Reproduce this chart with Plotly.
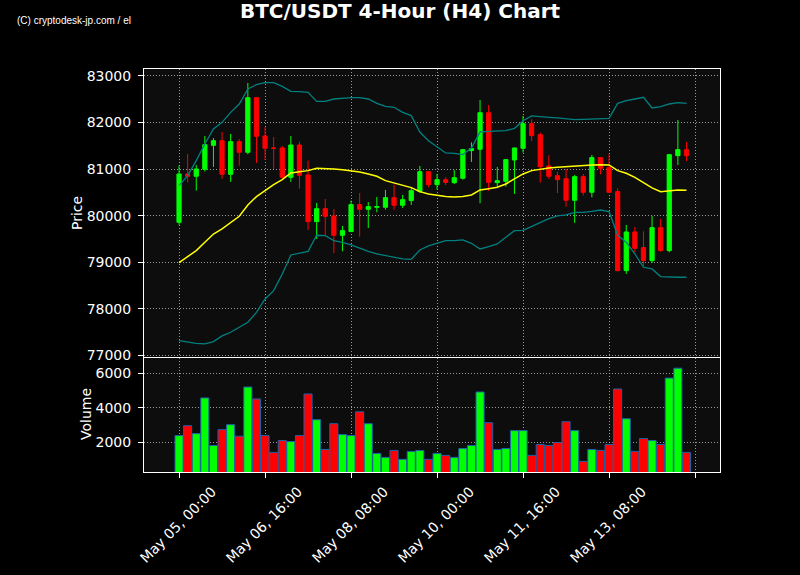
import pandas as pd
import plotly.graph_objects as go
from plotly.subplots import make_subplots

start_time = "2025-05-05 00:00"
n_candles = 60
opens = [79860, 80897, 80847, 80997, 81512, 81612, 80890, 81591, 81362, 82535,
         81712, 81455, 81455, 80825, 81519, 80876, 79874, 80153, 79996, 79581,
         79660, 80239, 80139, 80182, 80182, 80389, 80225, 80325, 80525, 80947,
         80668, 80775, 80711, 80804, 81398, 81426, 82213, 80711, 80740, 81197,
         81448, 81977, 81741, 81069, 80861, 80797, 80332, 80840, 80504, 81248,
         81033, 80518, 78822, 79652, 79316, 79037, 79745, 79252, 81290, 81419]
closes = [80897, 80847, 81004, 81526, 81612, 80890, 81591, 81362, 82535, 81705,
          81448, 81448, 80825, 81519, 80868, 79874, 80153, 79988, 79581, 79681,
          80239, 80139, 80196, 80196, 80389, 80225, 80346, 80539, 80947, 80668,
          80775, 80718, 80818, 81419, 81441, 82213, 80718, 80754, 81205, 81455,
          81977, 81720, 81054, 80847, 80775, 80332, 80840, 80504, 81248, 81019,
          80504, 78822, 79652, 79302, 79037, 79745, 79252, 81312, 81419, 81290]
highs = [81076, 81326, 81090, 81712, 81670, 81798, 81755, 81648, 82850, 82550,
         81906, 81691, 81498, 81712, 81591, 81183, 80275, 80361, 80146, 79781,
         80325, 80489, 80296, 80403, 80554, 80668, 80446, 80597, 81069, 80960,
         80897, 80833, 80983, 81433, 81577, 82485, 82378, 81047, 81215, 81465,
         82142, 82070, 81784, 81298, 80947, 81004, 80876, 80897, 81305, 81255,
         81326, 80589, 79803, 79760, 79667, 79995, 79931, 81326, 82056, 81584]
lows = [79803, 80718, 80539, 80947, 81047, 80790, 80725, 81076, 81319, 81133,
        81197, 81004, 80800, 80725, 80582, 79695, 79502, 79588, 79195, 79237,
        79650, 79552, 79738, 80074, 80132, 80132, 80167, 80232, 80489, 80611,
        80561, 80661, 80682, 80775, 81155, 80267, 80532, 80625, 80625, 80468,
        81355, 81605, 80711, 80790, 80489, 80196, 79845, 80439, 80396, 80890,
        80489, 78808, 78751, 79216, 78923, 78987, 79230, 79216, 81090, 81176]
volumes = [2400, 2971, 2514, 4571, 1829, 2743, 3029, 2362, 5200, 4514,
           2400, 1429, 2114, 2057, 2400, 4800, 3314, 1600, 3086, 2457,
           2400, 3771, 3086, 1371, 1143, 1543, 1029, 1486, 1543, 1029,
           1371, 1257, 1143, 1657, 1829, 4914, 3143, 1600, 1657, 2686,
           2686, 1257, 1886, 1829, 2000, 3200, 2686, 914, 1600, 1543,
           1886, 5086, 3371, 1486, 2229, 2114, 1886, 5714, 6286, 1429]
bb_upper = [80647, 80861, 81183, 81541, 81863, 82006, 82220, 82399, 82721, 82814,
            82857, 82857, 82778, 82671, 82664, 82650, 82456, 82456, 82506, 82528,
            82535, 82535, 82506, 82413, 82349, 82328, 82220, 82149, 81798, 81612,
            81484, 81348, 81341, 81312, 81455, 81798, 81813, 81827, 81827, 81877,
            82040, 82142, 82135, 82113, 82099, 82077, 82063, 82070, 82077, 82077,
            82092, 82413, 82471, 82506, 82542, 82313, 82342, 82399, 82428, 82413]
bb_mid = [78994, 79123, 79252, 79431, 79609, 79717, 79860, 79989, 80232, 80411,
          80539, 80668, 80775, 80918, 80947, 80969, 81019, 81019, 81004, 80990,
          80969, 80940, 80897, 80847, 80754, 80704, 80647, 80604, 80518, 80468,
          80439, 80411, 80403, 80411, 80446, 80554, 80582, 80611, 80682, 80790,
          80897, 80969, 81004, 81026, 81040, 81054, 81076, 81076, 81090, 81097,
          81090, 80969, 80911, 80825, 80718, 80597, 80518, 80539, 80554, 80547]
bb_lower = [77320, 77285, 77263, 77249, 77299, 77421, 77499, 77606, 77714, 77928,
            78214, 78393, 78751, 79159, 79202, 79237, 79581, 79574, 79466, 79431,
            79373, 79302, 79237, 79180, 79144, 79094, 79073, 79066, 79266, 79352,
            79409, 79466, 79466, 79481, 79409, 79288, 79338, 79395, 79538, 79681,
            79688, 79774, 79845, 79938, 79996, 80017, 80074, 80074, 80096, 80124,
            80089, 79581, 79431, 79180, 78894, 78858, 78694, 78680, 78680, 78680]
tick_dates = ["2025-05-05 00:00", "2025-05-06 16:00", "2025-05-08 08:00",
              "2025-05-10 00:00", "2025-05-11 16:00", "2025-05-13 08:00",
              "2025-05-15 00:00"]
tick_labels = ["May 05, 00:00", "May 06, 16:00", "May 08, 08:00",
               "May 10, 00:00", "May 11, 16:00", "May 13, 08:00", ""]
price_ticks = [77000, 78000, 79000, 80000, 81000, 82000, 83000]
volume_ticks = [2000, 4000, 6000]

times = pd.date_range(start_time, periods=n_candles, freq="4h")
UP, DOWN = "#00ff00", "#ff0000"
vol_colors = [UP if c >= o else DOWN for o, c in zip(opens, closes)]

fig = make_subplots(rows=2, cols=1, shared_xaxes=True, vertical_spacing=0)

fig.add_trace(go.Scatter(x=times, y=bb_upper, mode="lines",
                         line=dict(color="#008080", width=1.3), showlegend=False), 1, 1)
fig.add_trace(go.Scatter(x=times, y=bb_lower, mode="lines",
                         line=dict(color="#008080", width=1.3), showlegend=False), 1, 1)
fig.add_trace(go.Scatter(x=times, y=bb_mid, mode="lines",
                         line=dict(color="#ffff00", width=1.5), showlegend=False), 1, 1)
fig.add_trace(go.Candlestick(x=times, open=opens, high=highs, low=lows, close=closes,
                             increasing=dict(line=dict(color=UP, width=1), fillcolor=UP),
                             decreasing=dict(line=dict(color=DOWN, width=1), fillcolor=DOWN),
                             showlegend=False), 1, 1)
fig.add_trace(go.Bar(x=times, y=volumes, marker=dict(color=vol_colors,
                     line=dict(color="#1f60a8", width=1)), showlegend=False), 2, 1)

x0 = pd.Timestamp(start_time)
xrange = [x0 - pd.Timedelta(hours=16.3), x0 + pd.Timedelta(hours=251.6)]

axis_common = dict(showline=True, mirror=True, linecolor="white", linewidth=1,
                   gridcolor="rgba(190,190,190,0.8)", griddash="1px,2px", gridwidth=1,
                   zeroline=False, automargin=False,
                   tickfont=dict(color="white", size=14, family="DejaVu Sans"),
                   tickcolor="white")

fig.update_xaxes(axis_common)
fig.update_xaxes(range=xrange, tickvals=tick_dates, ticktext=tick_labels,
                 rangeslider=dict(visible=False), showticklabels=False, ticks="",
                 row=1, col=1)
fig.update_xaxes(range=xrange, tickvals=tick_dates, ticktext=tick_labels,
                 ticks="outside", ticklen=5, tickangle=-45, ticklabelshift=33,
                 row=2, col=1)
fig.update_yaxes(axis_common)
fig.update_yaxes(range=[76975, 83150], tickvals=price_ticks, tickformat="d",
                 ticks="outside", ticklen=5, ticklabelstandoff=4,
                 domain=[0.2861, 1.0], row=1, col=1)
fig.update_yaxes(range=[300, 6890], tickvals=volume_ticks, tickformat="d",
                 ticks="outside", ticklen=5, ticklabelstandoff=4,
                 domain=[0.0, 0.2836], row=2, col=1)

fig.update_layout(
    width=800, height=575,
    margin=dict(l=144, r=80, t=69, b=103),
    paper_bgcolor="#000000", plot_bgcolor="#0d0d0d",
    boxgap=0.3, bargap=0.06,
    font=dict(family="DejaVu Sans", color="white", size=14),
    title=dict(text="<b>BTC/USDT 4-Hour (H4) Chart</b>", x=0.5, xanchor="center",
               y=1 - 11 / 575, yanchor="middle", yref="container",
               font=dict(size=20, color="white", family="DejaVu Sans")),
    showlegend=False,
    annotations=[
        dict(text="Price", xref="paper", yref="paper", x=(77 - 144) / 576,
             y=(472 - 213) / 403, textangle=-90, showarrow=False,
             xanchor="center", yanchor="middle", font=dict(size=14, color="white")),
        dict(text="Volume", xref="paper", yref="paper", x=(86 - 144) / 576,
             y=(472 - 414) / 403, textangle=-90, showarrow=False,
             xanchor="center", yanchor="middle", font=dict(size=14, color="white")),
        dict(text="(C) cryptodesk-jp.com / el", xref="paper", yref="paper",
             x=(15 - 144) / 576, y=(472 - 21) / 403, showarrow=False,
             xanchor="left", yanchor="middle",
             font=dict(size=10, color="white",
                       family="Liberation Sans Narrow, Liberation Sans")),
    ],
)

fig.write_html("out.html", config={"displayModeBar": False},
               post_script="document.body.style.margin='0px';"
                           "document.body.style.background='#000';")
